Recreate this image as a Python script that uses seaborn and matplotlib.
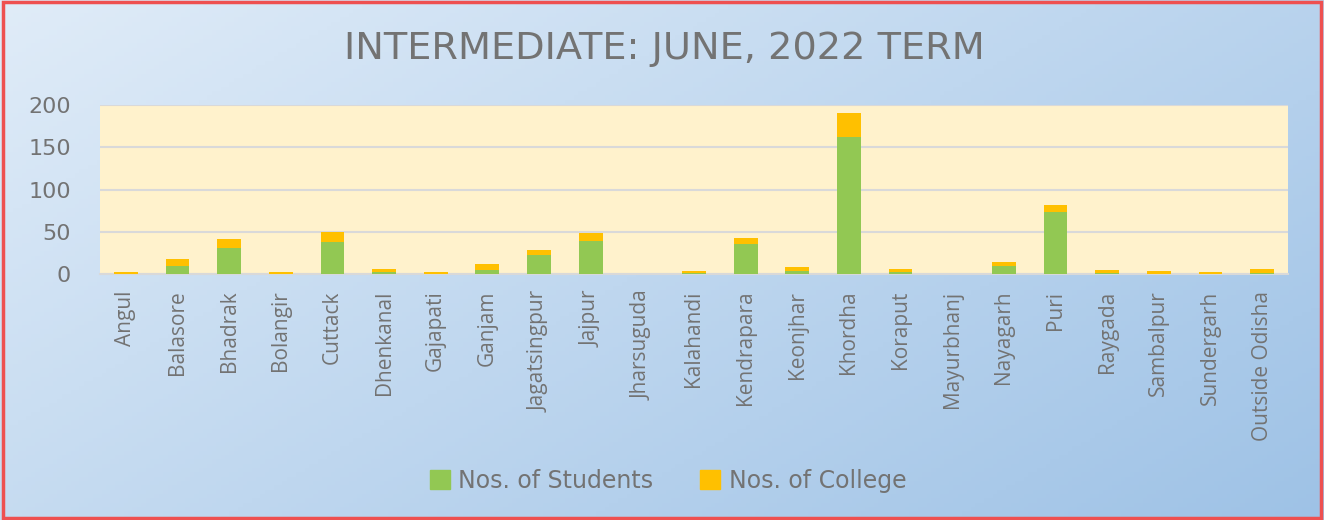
import numpy as np
import pandas as pd
import matplotlib
matplotlib.use("Agg")
import matplotlib.pyplot as plt
import seaborn as sns
from matplotlib.patches import Rectangle, Patch

districts = ["Angul", "Balasore", "Bhadrak", "Bolangir", "Cuttack", "Dhenkanal",
             "Gajapati", "Ganjam", "Jagatsingpur", "Jajpur", "Jharsuguda",
             "Kalahandi", "Kendrapara", "Keonjhar", "Khordha", "Koraput",
             "Mayurbhanj", "Nayagarh", "Puri", "Raygada", "Sambalpur",
             "Sundergarh", "Outside Odisha"]
students = [0, 10, 31, 0, 38, 2, 0, 5, 22, 39, 0, 1, 35, 4, 162, 2, 0, 10, 73, 1, 0, 0, 1]
colleges = [2, 8, 10, 2, 12, 4, 3, 7, 6, 9, 0, 3, 8, 4, 28, 4, 0, 4, 9, 4, 4, 2, 5]

df = pd.DataFrame({"District": districts, "Students": students, "College": colleges})
df["Total"] = df["Students"] + df["College"]

green = "#92C853"
orange = "#FFC000"
grey_txt = "#737373"

sns.set_style("white")
plt.rcParams["font.family"] = ["Open Sans", "DejaVu Sans"]

fig = plt.figure(figsize=(13.24, 5.2), dpi=100)

# gradient background
bg = fig.add_axes([0, 0, 1, 1], zorder=-10)
xx, yy = np.meshgrid(np.linspace(0, 1, 300), np.linspace(0, 1, 120))
t = (xx * 0.6 + yy * 0.4)
c0 = np.array([224, 236, 248]) / 255
c1 = np.array([158, 194, 230]) / 255
img = c0 + (c1 - c0) * t[..., None]
bg.imshow(img, aspect="auto", extent=[0, 1, 0, 1], origin="upper")
bg.set_axis_off()
fig.patches.append(Rectangle((0.002, 0.003), 0.996, 0.993, transform=fig.transFigure,
                             fill=False, edgecolor="#EE5050", linewidth=2.5))

ax = fig.add_axes([0.0755, 0.473, 0.8973, 0.325])
ax.set_facecolor("#FFF2CC")

sns.barplot(data=df, x="District", y="Total", color=orange, width=0.46,
            saturation=1, linewidth=0, ax=ax, zorder=3)
sns.barplot(data=df, x="District", y="Students", color=green, width=0.46,
            saturation=1, linewidth=0, ax=ax, zorder=4)

ax.set_ylim(0, 200)
ax.set_xlim(-0.5, len(districts) - 0.5)
ax.set_yticks([0, 50, 100, 150, 200])
ax.yaxis.grid(True, color="#D9D9D9", linewidth=1.5, zorder=0)
ax.set_axisbelow(True)
for s in ["top", "right", "left"]:
    ax.spines[s].set_visible(False)
ax.spines["bottom"].set_color("#D9D9D9")
ax.spines["bottom"].set_linewidth(1.5)

ax.set_xlabel("")
ax.set_ylabel("")
ax.tick_params(axis="y", length=0, labelsize=16, labelcolor=grey_txt, pad=21)
for lab in ax.get_yticklabels():
    lab.set_family("DejaVu Sans")
ax.tick_params(axis="x", length=0, labelsize=15, labelcolor=grey_txt, pad=12)
ax.set_xticks(range(len(districts)))
ax.set_xticklabels(districts, rotation=90)
ax.set_xticks(np.arange(-0.5, len(districts), 1), minor=True)
ax.tick_params(axis="x", which="minor", length=6, color="#D9D9D9", width=1.5)

fig.text(0.5015, 0.905, "INTERMEDIATE: JUNE, 2022 TERM", ha="center", va="center",
         fontsize=27.5, color=grey_txt, family="DejaVu Sans")

handles = [Patch(color=green, label="Nos. of Students"),
           Patch(color=orange, label="Nos. of College")]
leg = fig.legend(handles=handles, loc="center", bbox_to_anchor=(0.5045, 0.075), ncol=2,
                 frameon=False, prop={"family": "DejaVu Sans", "size": 17},
                 labelcolor=grey_txt, handlelength=0.85, handleheight=0.85,
                 columnspacing=2.0, handletextpad=0.35)

fig.savefig("out.png", dpi=100)
